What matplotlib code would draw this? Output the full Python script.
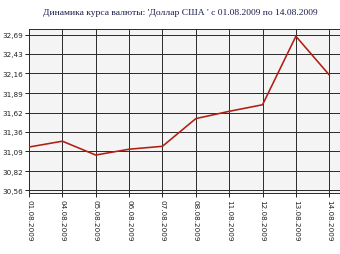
import matplotlib.pyplot as plt
import numpy as np

# USD exchange rate, 01.08.2009 - 14.08.2009
DATES = ["01.08.2009", "04.08.2009", "05.08.2009", "06.08.2009", "07.08.2009",
         "08.08.2009", "11.08.2009", "12.08.2009", "13.08.2009", "14.08.2009"]
RATES = [31.15, 31.23, 31.04, 31.12, 31.16, 31.54, 31.64, 31.73, 32.67, 32.14]
Y_TICKS = [30.56, 30.82, 31.09, 31.36, 31.62, 31.89, 32.16, 32.43, 32.69]
TITLE = "Динамика курса валюты: 'Доллар США ' с 01.08.2009 по 14.08.2009"

fig = plt.figure(figsize=(3.4, 2.55), dpi=100)
ax = fig.add_axes([29 / 340, 1 - 194 / 255, 1 - 29 / 340 + 0.01, (194 - 30) / 255])
ax.set_facecolor("#f4f4f4")

x = np.arange(len(DATES))
ax.plot(x, RATES, color="#b01e14", linewidth=1.15, zorder=3)

ax.set_xlim(0, len(DATES) - 1 + 14 / 33)
ax.set_ylim(30.519, 32.77)
ax.set_xticks(x)
ax.set_xticklabels(DATES, rotation=270, fontsize=5.2, va="top", ha="center")
ax.set_yticks(Y_TICKS)
ax.set_yticklabels([f"{v:.2f}".replace(".", ",") for v in Y_TICKS], fontsize=5.2)
ax.tick_params(length=3, width=0.7, color="#222222", pad=1.5, labelcolor="#222222")
ax.grid(True, color="#2a2a2a", linewidth=0.7)
ax.set_axisbelow(True)
for side in ["left", "bottom", "top"]:
    ax.spines[side].set_color("#2a2a2a")
    ax.spines[side].set_linewidth(0.7)
ax.spines["right"].set_visible(False)

fig.text(0.53, 1 - 13 / 255, TITLE, ha="center", va="center",
         fontsize=6.8, family="Liberation Serif", color="#1c1c4a")

fig.savefig("out.png", dpi=100)
